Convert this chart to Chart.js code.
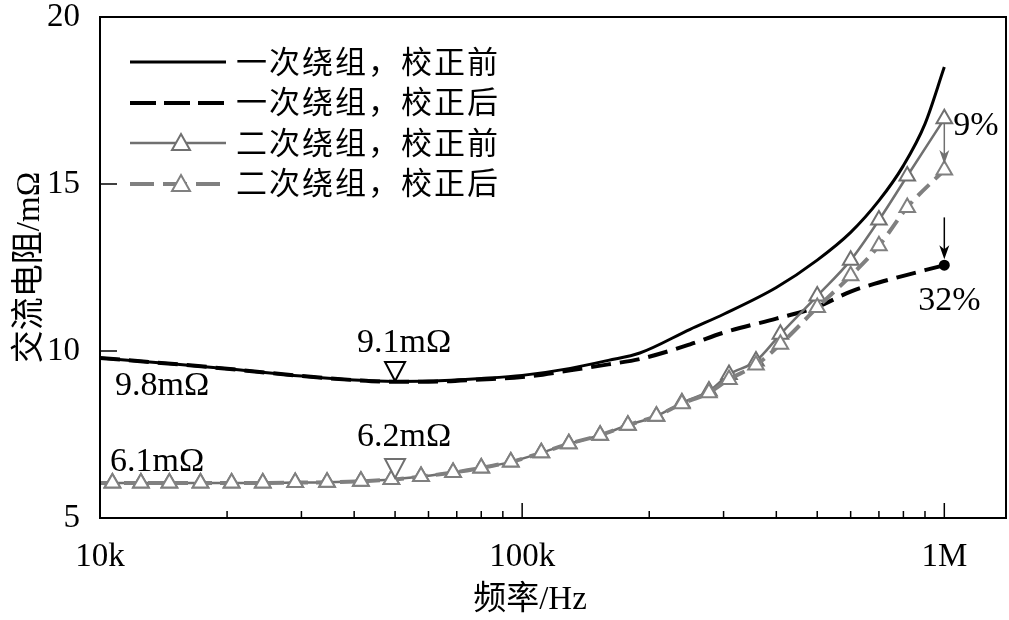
<!DOCTYPE html>
<html lang="zh">
<head>
<meta charset="UTF-8">
<title>交流电阻-频率</title>
<script src="https://cdn.jsdelivr.net/npm/chart.js"></script>
<style>
    body { margin: 0; background: #fff; }
    .wrap { position: relative; width: 1009px; height: 620px; }
    .legend {
        position: absolute; left: 128px; top: 42px;
        font-family: "Liberation Serif", "Noto Sans CJK SC", serif;
        font-size: 31px; color: #000;
    }
    .row { display: flex; align-items: center; height: 40.5px; }
    .row svg { width: 100px; height: 24px; margin-right: 8px; flex: none; }
    .row span { letter-spacing: 2px; line-height: 1; white-space: nowrap; }
</style>
</head>
<body>
<div class="wrap">
    <canvas id="chart" width="1009" height="620"></canvas>
    <!-- legend sits inside the plot box, top left -->
    <div class="legend">
        <div class="row">
            <svg viewBox="0 0 100 24"><line x1="2" y1="12" x2="98" y2="12" stroke="#000" stroke-width="3"/></svg>
            <span>一次绕组，校正前</span>
        </div>
        <div class="row">
            <svg viewBox="0 0 100 24"><line x1="2" y1="12" x2="98" y2="12" stroke="#000" stroke-width="4" stroke-dasharray="26 8"/></svg>
            <span>一次绕组，校正后</span>
        </div>
        <div class="row">
            <svg viewBox="0 0 100 24"><line x1="2" y1="12" x2="98" y2="12" stroke="#707070" stroke-width="2.5"/>
                <polygon points="53,3 62,19 44,19" fill="#fff" stroke="#707070" stroke-width="2"/></svg>
            <span>二次绕组，校正前</span>
        </div>
        <div class="row">
            <svg viewBox="0 0 100 24"><line x1="2" y1="12" x2="98" y2="12" stroke="#808080" stroke-width="4" stroke-dasharray="24 9"/>
                <polygon points="53,3 62,19 44,19" fill="#fff" stroke="#808080" stroke-width="2"/></svg>
            <span>二次绕组，校正后</span>
        </div>
    </div>
</div>

<script>
    // primary winding (一次绕组)
    const freqP = [10000, 15000, 20000, 30000, 40000, 50000, 60000, 80000, 100000, 130000,
        160000, 190000, 250000, 300000, 400000, 500000, 600000, 700000, 800000, 900000, 1000000];
    const primaryBefore = [9.79, 9.61, 9.47, 9.25, 9.13, 9.09, 9.1, 9.18, 9.27, 9.48,
        9.72, 9.94, 10.65, 11.1, 11.9, 12.72, 13.55, 14.5, 15.55, 16.8, 18.5];
    const primaryAfter = [9.79, 9.61, 9.47, 9.25, 9.13, 9.08, 9.08, 9.15, 9.22, 9.42,
        9.6, 9.76, 10.2, 10.55, 10.97, 11.32, 11.78, 12.05, 12.25, 12.42, 12.57];

    // secondary winding (二次绕组), one value per triangle marker
    const freqS = [10000, 10700, 12500, 14600, 17300, 20500, 24300, 29000, 34500, 41500,
        49000, 57600, 68600, 80000, 94000, 111000, 129000, 153000, 178000, 208000,
        239000, 277000, 309000, 358000, 409000, 500000, 600000, 700000, 817000, 1000000];
    const secondaryBefore = [6.05, 6.05, 6.05, 6.05, 6.05, 6.05, 6.05, 6.06, 6.07, 6.1,
        6.15, 6.24, 6.36, 6.5, 6.68, 6.95, 7.22, 7.48, 7.78, 8.05,
        8.45, 8.8, 9.3, 9.7, 10.5, 11.65, 12.72, 13.92, 15.24, 16.95];
    const secondaryAfter = [6.05, 6.05, 6.05, 6.05, 6.05, 6.05, 6.05, 6.06, 6.07, 6.1,
        6.15, 6.24, 6.36, 6.5, 6.68, 6.95, 7.22, 7.48, 7.78, 8.05,
        8.42, 8.75, 9.15, 9.58, 10.2, 11.3, 12.25, 13.15, 14.3, 15.42];

    const xTickLabels = { 10000: '10k', 100000: '100k', 1000000: '1M' };
    const yTickValues = [5, 10, 15, 20];

    const GRAY = '#707070';
    const GRAY2 = '#808080';
    const SERIF = '"Liberation Serif", "Noto Sans CJK SC", serif';

    const pts = (xs, ys) => xs.map((f, i) => ({ x: f, y: ys[i] }));
    // first secondary point is the curve start at 10k, no marker there
    const triRadius = freqS.map((f, i) => i === 0 ? 0 : 9);

    // overlay: frame, inward ticks, value notes and arrows
    const overlay = {
        id: 'overlay',
        afterDatasetsDraw(chart) {
            const { ctx, chartArea: a, scales: { x, y } } = chart;
            ctx.save();
            ctx.strokeStyle = '#000';
            ctx.lineWidth = 2;
            ctx.strokeRect(a.left, a.top, a.right - a.left, a.bottom - a.top);

            ctx.lineWidth = 1.5;
            x.ticks.forEach(t => {
                const exp = Math.floor(Math.log10(t.value) + 1e-9);
                const sig = t.value / Math.pow(10, exp);
                if (Math.abs(sig - Math.round(sig)) > 1e-6) return;
                const px = x.getPixelForValue(t.value);
                if (px <= a.left + 2 || px >= a.right - 2) return;
                const len = Math.round(sig) === 1 ? 15 : 7;
                ctx.beginPath();
                ctx.moveTo(px, a.bottom);
                ctx.lineTo(px, a.bottom - len);
                ctx.stroke();
            });
            yTickValues.forEach(v => {
                const py = y.getPixelForValue(v);
                if (py <= a.top + 2 || py >= a.bottom - 2) return;
                ctx.beginPath();
                ctx.moveTo(a.left, py);
                ctx.lineTo(a.left + 17, py);
                ctx.stroke();
            });

            // ▽ markers with the tip on the curve
            const downTri = (f, v, color) => {
                const px = x.getPixelForValue(f), py = y.getPixelForValue(v);
                ctx.beginPath();
                ctx.moveTo(px, py);
                ctx.lineTo(px - 10, py - 19);
                ctx.lineTo(px + 10, py - 19);
                ctx.closePath();
                ctx.fillStyle = '#fff';
                ctx.fill();
                ctx.strokeStyle = color;
                ctx.lineWidth = 2;
                ctx.stroke();
            };
            downTri(50000, 9.1, '#000');
            downTri(50000, 6.2, GRAY);

            ctx.fillStyle = '#000';
            ctx.font = '34px "Liberation Serif"';
            ctx.textAlign = 'left';
            ctx.textBaseline = 'alphabetic';
            const note = (text, f, v, dx, dy) => {
                ctx.fillText(text, x.getPixelForValue(f) + dx, y.getPixelForValue(v) + dy);
            };
            note('9.8mΩ', 10000, 9.8, 15, 37);
            note('6.1mΩ', 10000, 6.05, 10, -12);
            note('9.1mΩ', 50000, 9.1, -38, -29);
            note('6.2mΩ', 50000, 6.2, -38, -32);
            note('9%', 1000000, 16.95, 9, 16);
            note('32%', 1000000, 12.57, -26, 45);

            // x axis title, sits a little left of the plot centre
            ctx.font = '33px ' + SERIF;
            ctx.textAlign = 'center';
            ctx.textBaseline = 'middle';
            ctx.fillText('频率/Hz', 530, 600);

            const arrow = (f, v0, v1, color) => {
                const px = x.getPixelForValue(f);
                const y0 = y.getPixelForValue(v0), y1 = y.getPixelForValue(v1);
                ctx.strokeStyle = color;
                ctx.fillStyle = color;
                ctx.lineWidth = 1.5;
                ctx.beginPath();
                ctx.moveTo(px, y0);
                ctx.lineTo(px, y1 - 8);
                ctx.stroke();
                ctx.beginPath();
                ctx.moveTo(px, y1);
                ctx.lineTo(px - 5, y1 - 14);
                ctx.lineTo(px, y1 - 10);
                ctx.lineTo(px + 5, y1 - 14);
                ctx.closePath();
                ctx.fill();
            };
            arrow(1000000, 16.8, 15.6, GRAY);
            arrow(1000000, 14.0, 12.75, '#000');
            ctx.restore();
        }
    };

    new Chart(document.getElementById('chart'), {
        type: 'line',
        data: {
            datasets: [
                {
                    label: '二次绕组，校正后',
                    data: pts(freqS, secondaryAfter),
                    borderColor: GRAY2,
                    borderWidth: 4,
                    borderDash: [16, 8],
                    pointStyle: 'triangle',
                    pointRadius: triRadius,
                    pointBorderWidth: 2,
                    pointBorderColor: GRAY2,
                    pointBackgroundColor: '#fff',
                    cubicInterpolationMode: 'monotone'
                },
                {
                    label: '二次绕组，校正前',
                    data: pts(freqS, secondaryBefore),
                    borderColor: GRAY,
                    borderWidth: 2.5,
                    pointStyle: 'triangle',
                    pointRadius: triRadius,
                    pointBorderWidth: 2,
                    pointBorderColor: GRAY,
                    pointBackgroundColor: '#fff',
                    cubicInterpolationMode: 'monotone'
                },
                {
                    label: '一次绕组，校正后',
                    data: pts(freqP, primaryAfter),
                    borderColor: '#000',
                    borderWidth: 4,
                    borderDash: [20, 9],
                    pointRadius: freqP.map((f, i) => i === freqP.length - 1 ? 3.5 : 0),
                    pointBackgroundColor: '#000',
                    pointBorderColor: '#000',
                    cubicInterpolationMode: 'monotone'
                },
                {
                    label: '一次绕组，校正前',
                    data: pts(freqP, primaryBefore),
                    borderColor: '#000',
                    borderWidth: 3,
                    pointRadius: 0,
                    cubicInterpolationMode: 'monotone'
                }
            ]
        },
        options: {
            responsive: false,
            devicePixelRatio: 1,
            animation: false,
            layout: { autoPadding: false, padding: { top: 17, right: 3, bottom: 0, left: 0 } },
            plugins: { legend: { display: false }, tooltip: { enabled: false } },
            scales: {
                x: {
                    type: 'logarithmic',
                    min: 10000,
                    max: 1400000,
                    grid: { display: false },
                    border: { display: false },
                    ticks: {
                        autoSkip: false,
                        maxRotation: 0,
                        padding: 12,
                        color: '#000',
                        font: { family: '"Liberation Serif"', size: 33 },
                        callback: v => xTickLabels[Math.round(v)] || ''
                    },
                    afterFit: s => { s.height = 102; s.paddingLeft = 0; s.paddingRight = 0; }
                },
                y: {
                    min: 5,
                    max: 20,
                    grid: { display: false },
                    border: { display: false },
                    ticks: {
                        stepSize: 5,
                        padding: 12,
                        color: '#000',
                        font: { family: '"Liberation Serif"', size: 33 }
                    },
                    title: {
                        display: true,
                        text: '交流电阻/mΩ',
                        color: '#000',
                        font: { family: SERIF, size: 33 },
                        padding: { top: 11, bottom: 0 }
                    },
                    afterFit: s => { s.width = 100; s.paddingTop = 0; s.paddingBottom = 0; }
                }
            }
        },
        plugins: [overlay]
    });
</script>
</body>
</html>
